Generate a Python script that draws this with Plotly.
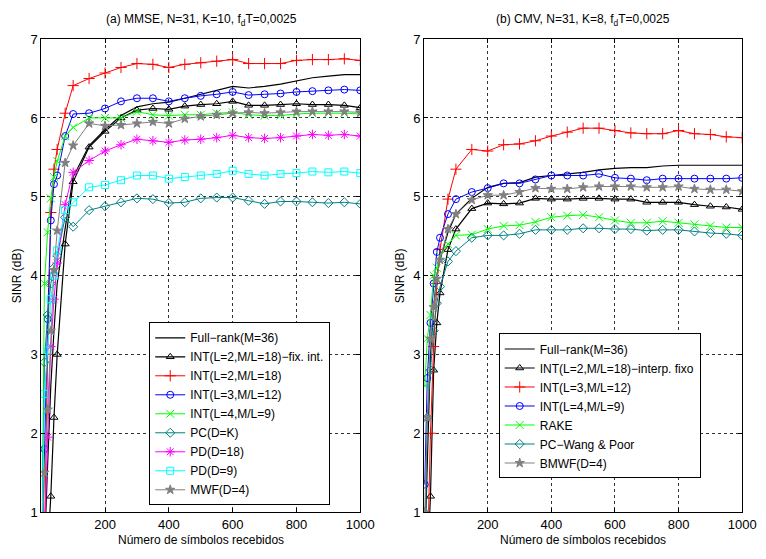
import plotly.graph_objects as go

# Shared x samples (number of received symbols)
x_sym = [2, 10, 20, 30, 40, 50, 75, 100, 150, 200, 250, 300, 350, 400, 450,
         500, 550, 600, 650, 700, 750, 800, 850, 900, 950, 1000]

# ---- (a) MMSE ----
full_a = [0.3, 0.5, 1.6, 2.6, 3.3, 3.9, 4.6, 5.25, 5.65, 5.85, 6.03, 6.14, 6.18, 6.20, 6.25,
          6.30, 6.35, 6.40, 6.38, 6.40, 6.43, 6.47, 6.51, 6.53, 6.55, 6.55]
tri_a = [0.2, 0.3, 0.5, 1.2, 2.2, 3.0, 4.40, 5.19, 5.63, 5.83, 6.00, 6.10, 6.12, 6.11, 6.15,
         6.17, 6.18, 6.21, 6.16, 6.16, 6.17, 6.18, 6.17, 6.17, 6.16, 6.13]
red_a = [0.3, 0.6, 3.0, 4.8, 5.35, 5.6, 6.06, 6.41, 6.50, 6.57, 6.64, 6.69, 6.68, 6.64, 6.68,
         6.70, 6.72, 6.74, 6.69, 6.69, 6.69, 6.73, 6.74, 6.74, 6.75, 6.73]
blue_a = [0.3, 1.8, 3.45, 4.7, 5.16, 5.27, 5.77, 6.05, 6.06, 6.12, 6.21, 6.25, 6.25, 6.21, 6.25,
          6.28, 6.30, 6.33, 6.29, 6.30, 6.31, 6.33, 6.34, 6.35, 6.36, 6.35]
green_a = [0.5, 3.9, 4.55, 4.98, 5.25, 5.45, 5.77, 5.88, 6.0, 6.0, 6.0, 6.08, 6.04, 6.03, 6.04,
           6.04, 6.06, 6.07, 6.04, 6.03, 6.03, 6.05, 6.06, 6.06, 6.06, 6.05]
teal_a = [0.5, 2.9, 3.5, 3.9, 4.1, 4.25, 4.74, 4.62, 4.83, 4.88, 4.93, 4.98, 4.97, 4.92, 4.93,
          4.98, 4.99, 4.99, 4.95, 4.91, 4.94, 4.94, 4.93, 4.92, 4.93, 4.91]
magenta_a = [0.3, 0.6, 1.95, 3.1, 3.7, 4.16, 4.90, 5.31, 5.46, 5.58, 5.66, 5.73, 5.71, 5.69, 5.72,
             5.73, 5.75, 5.78, 5.75, 5.74, 5.75, 5.77, 5.79, 5.78, 5.79, 5.77]
cyan_a = [0.5, 2.5, 3.05, 3.7, 4.0, 4.32, 4.83, 4.93, 5.12, 5.15, 5.21, 5.27, 5.27, 5.23, 5.25,
          5.27, 5.29, 5.33, 5.29, 5.27, 5.29, 5.30, 5.32, 5.31, 5.32, 5.30]
gray_a = [0.5, 1.5, 2.3, 3.3, 4.07, 4.57, 5.43, 5.65, 5.93, 5.90, 5.91, 5.93, 5.95, 5.93, 5.99,
          6.02, 6.04, 6.06, 6.07, 6.06, 6.07, 6.08, 6.08, 6.08, 6.08, 6.07]

# ---- (b) CMV ----
full_b = [0.5, 1.5, 3.0, 3.6, 4.0, 4.2, 4.55, 4.78, 4.98, 5.12, 5.17, 5.18, 5.25, 5.27, 5.29,
          5.31, 5.34, 5.36, 5.37, 5.37, 5.39, 5.40, 5.40, 5.40, 5.40, 5.40]
tri_b = [0.2, 0.3, 1.2, 2.8, 3.4, 3.78, 4.33, 4.59, 4.85, 4.92, 4.91, 4.92, 4.98, 4.97, 4.97,
         4.98, 4.98, 4.97, 4.97, 4.93, 4.93, 4.93, 4.90, 4.88, 4.87, 4.84]
red_b = [0.2, 0.3, 2.0, 3.1, 3.9, 4.33, 4.97, 5.35, 5.60, 5.58, 5.66, 5.67, 5.71, 5.77, 5.82,
         5.87, 5.87, 5.84, 5.81, 5.80, 5.80, 5.84, 5.80, 5.79, 5.76, 5.75]
blue_b = [1.35, 2.7, 3.4, 3.9, 4.3, 4.48, 4.78, 4.97, 5.06, 5.11, 5.17, 5.17, 5.22, 5.27, 5.27,
          5.27, 5.29, 5.24, 5.23, 5.21, 5.23, 5.23, 5.23, 5.23, 5.23, 5.24]
green_b = [2.6, 3.2, 3.5, 4.0, 4.1, 4.25, 4.40, 4.51, 4.52, 4.59, 4.63, 4.64, 4.68, 4.74, 4.76,
           4.77, 4.74, 4.70, 4.67, 4.67, 4.69, 4.67, 4.65, 4.63, 4.61, 4.61]
teal_b = [0.3, 2.2, 2.8, 3.3, 3.65, 3.86, 4.18, 4.31, 4.48, 4.51, 4.51, 4.53, 4.58, 4.58, 4.58,
          4.60, 4.60, 4.59, 4.59, 4.57, 4.58, 4.58, 4.56, 4.54, 4.53, 4.51]
gray_b = [1.0, 2.2, 3.2, 3.6, 3.96, 4.2, 4.59, 4.78, 4.96, 5.02, 5.02, 5.06, 5.11, 5.10, 5.10,
          5.12, 5.13, 5.13, 5.13, 5.12, 5.12, 5.13, 5.10, 5.09, 5.09, 5.07]

names_a = ["Full\u2212rank(M=36)", "INT(L=2,M/L=18)\u2212fix. int.", "INT(L=2,M/L=18)",
           "INT(L=3,M/L=12)", "INT(L=4,M/L=9)", "PC(D=K)", "PD(D=18)", "PD(D=9)", "MWF(D=4)"]
names_b = ["Full\u2212rank(M=36)", "INT(L=2,M/L=18)\u2212interp. fixo", "INT(L=3,M/L=12)",
           "INT(L=4,M/L=9)", "RAKE", "PC\u2212Wang & Poor", "BMWF(D=4)"]

BLACK, RED, BLUE, GREEN = "#000000", "#FF0000", "#0000FF", "#00FF00"
TEAL, MAG, CYAN, GRAY = "#008080", "#FF00FF", "#00FFFF", "#808080"

series_a = [
    (full_a, BLACK, None), (tri_a, BLACK, "triangle-up-open"), (red_a, RED, "cross-thin-open"),
    (blue_a, BLUE, "circle-open"), (green_a, GREEN, "x-thin-open"), (teal_a, TEAL, "diamond-open"),
    (magenta_a, MAG, "asterisk-open"), (cyan_a, CYAN, "square-open"), (gray_a, GRAY, "star"),
]
series_b = [
    (full_b, BLACK, None), (tri_b, BLACK, "triangle-up-open"), (red_b, RED, "cross-thin-open"),
    (blue_b, BLUE, "circle-open"), (green_b, GREEN, "x-thin-open"), (teal_b, TEAL, "diamond-open"),
    (gray_b, GRAY, "star"),
]

fig = go.Figure()

def add(series, names, xa, ya, leg):
    for (vals, col, sym), nm in zip(series, names):
        if sym is None:
            mode, marker = "lines", None
        else:
            mode = "lines+markers"
            if sym in ("cross-thin-open", "x-thin-open", "asterisk-open"):
                size = 8
            elif sym == "star":
                size = 7
            else:
                size = 7
            marker = dict(symbol=sym, size=size, color=col, line=dict(color=col, width=1))
        fig.add_trace(go.Scatter(x=x_sym, y=vals, name=nm, mode=mode, marker=marker,
                                 line=dict(color=col, width=1.2 if col == BLACK else 1),
                                 xaxis=xa, yaxis=ya, legend=leg, cliponaxis=True))

add(series_a, names_a, "x", "y", "legend")
add(series_b, names_b, "x2", "y2", "legend2")

W, H = 766, 559
FONT = "Liberation Sans, Arial, Helvetica, sans-serif"

axis_common = dict(showline=True, linecolor="black", linewidth=1, mirror="ticks",
                   ticks="inside", ticklen=4, tickcolor="black", zeroline=False,
                   showgrid=True, gridcolor="rgba(0,0,0,0.8)", griddash="dot", gridwidth=1,
                   tickfont=dict(family=FONT, size=13, color="black"))
xcommon = dict(axis_common, range=[0, 1000], tickvals=[200, 400, 600, 800, 1000])
ycommon = dict(axis_common, range=[1, 7], tickvals=[1, 2, 3, 4, 5, 6, 7])

yb, yt = 1 - 519 / H, 1 - 33 / H
fig.update_layout(
    width=W, height=H, margin=dict(l=0, r=0, t=0, b=0),
    paper_bgcolor="white", plot_bgcolor="white",
    font=dict(family=FONT, size=12, color="black"),
    xaxis=dict(xcommon, domain=[42 / W, 367 / W], anchor="y"),
    yaxis=dict(ycommon, domain=[yb, yt], anchor="x"),
    xaxis2=dict(xcommon, domain=[432 / W, 756 / W], anchor="y2"),
    yaxis2=dict(ycommon, domain=[yb, yt], anchor="x2"),
    legend=dict(x=152 / W, y=1 - 418 / H, xanchor="left", yanchor="middle",
                bgcolor="white", bordercolor="black", borderwidth=1,
                font=dict(family=FONT, size=12), tracegroupgap=0, itemwidth=30),
    legend2=dict(x=508 / W, y=1 - 410 / H, xanchor="left", yanchor="middle",
                 bgcolor="white", bordercolor="black", borderwidth=1,
                 font=dict(family=FONT, size=12), tracegroupgap=0, itemwidth=30),
    showlegend=True,
)

ann = [
    dict(text="(a) MMSE, N=31, K=10, f<sub>d</sub>T=0,0025", x=205 / W, y=1 - 13 / H),
    dict(text="(b) CMV, N=31, K=8, f<sub>d</sub>T=0,0025", x=594 / W, y=1 - 13 / H),
    dict(text="Número de símbolos recebidos", x=205 / W, y=1 - 548 / H),
    dict(text="Número de símbolos recebidos", x=594 / W, y=1 - 548 / H),
    dict(text="SINR (dB)", x=17 / W, y=1 - 276 / H, textangle=-90),
    dict(text="SINR (dB)", x=407 / W, y=1 - 276 / H, textangle=-90),
]
for a in ann:
    fig.add_annotation(xref="paper", yref="paper", showarrow=False,
                       xanchor="center", yanchor="middle",
                       font=dict(family=FONT, size=12, color="black"), **a)

fig.write_html("out.html")
